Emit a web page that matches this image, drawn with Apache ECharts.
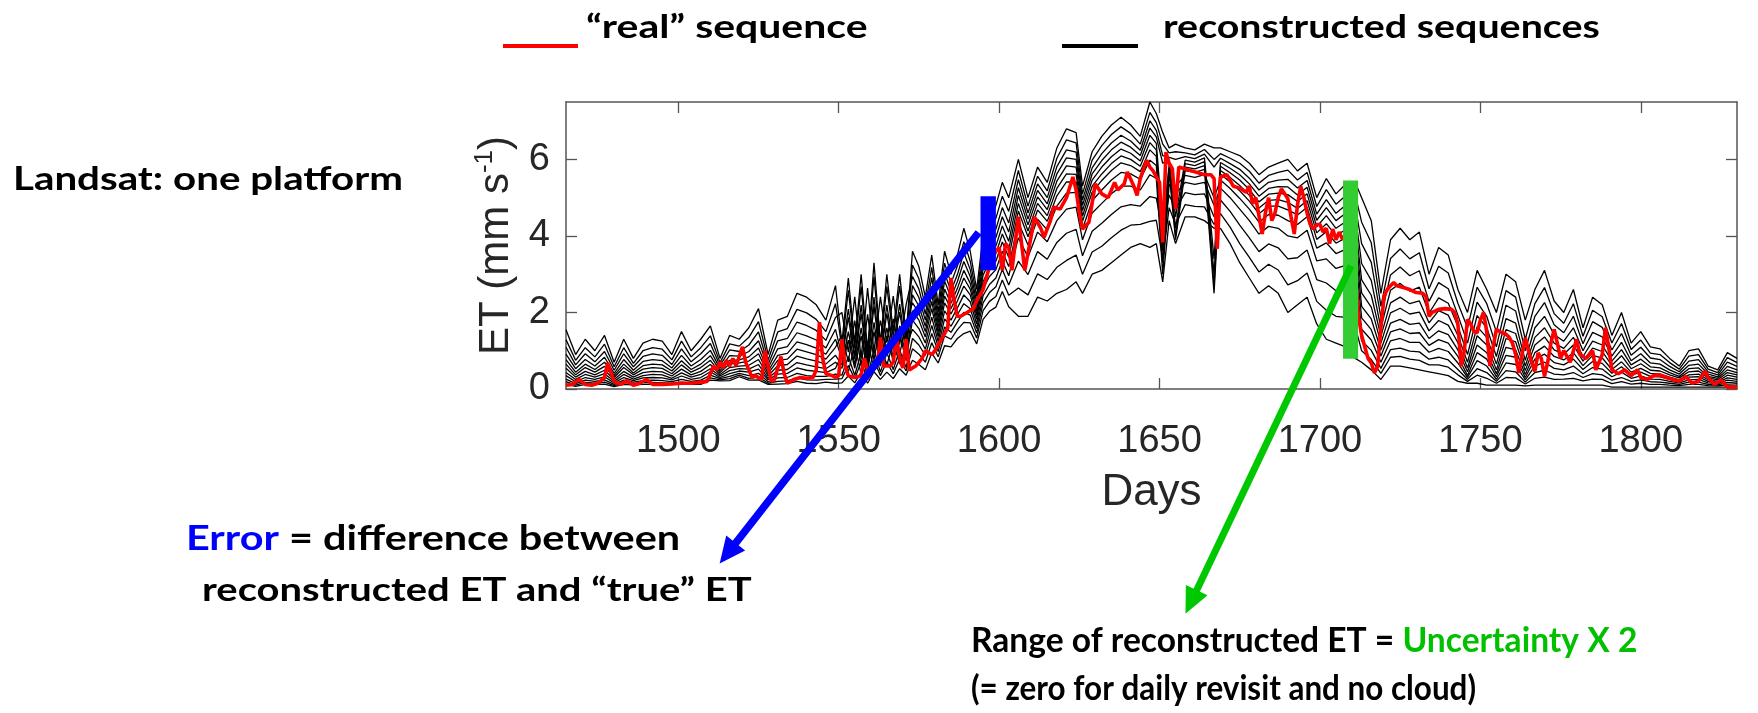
<!DOCTYPE html>
<html><head><meta charset="utf-8">
<script src="https://cdn.jsdelivr.net/npm/echarts@6/dist/echarts.min.js"></script>
<style>html,body{margin:0;padding:0;background:#fff}#c{width:1758px;height:713px}</style>
</head><body><div id="c"></div>
<script>
// ---------- data ----------
const xTickValues = [1500, 1550, 1600, 1650, 1700, 1750, 1800];
const yTickValues = [0, 2, 4, 6];

const days = [1465,1468,1471,1474,1477,1480,1483,1486,1489,1492,1495,1498,1501,1504,1507,1510,1513,1516,1519,1522,1525,1528,1531,1534,1537,1540,1543,1546,1549,
1551,1553,1555,1557,1559,1561,1563,1565,1567,1569,1571,1573,1575,1577,1579,1581,1583,1585,1587,1589,1591,1593,1595,1597,1599,1601,1603,
1606,1609,1612,1615,1618,1621,1624,1626,1629,1632,1635,1638,1641,1644,1647,1649,1651,1653,1655,1658,1661,1664,1667,1669,1672,1675,1678,1681,1684,1687,1690,1693,1696,1699,1702,1705,1708,1711,
1713,1716,1719,1722,1725,1728,1731,1734,1737,1740,1743,1746,1749,1752,1755,1758,1761,1764,1767,1770,1773,1776,1779,1782,1785,1788,1791,1794,1797,1800,1803,1806,1809,1812,1815,1818,1821,1824,1827,1830];

const recon1 = [1.55,0.9,1.3,1.0,1.4,0.7,1.3,0.8,1.2,1.3,1.25,0.9,1.5,1.0,1.3,1.65,0.8,1.4,1.3,1.6,2.1,0.9,1.8,1.9,2.5,2.4,2.2,1.8,2.7,
1.2,2.9,1.2,3.0,1.0,3.3,1.2,3.0,1.5,3.0,1.4,3.6,3.2,2.4,3.5,2.2,3.6,3.0,3.5,4.2,3.6,2.6,4.0,4.5,4.8,5.4,5.0,
6.0,5.0,5.8,5.4,6.3,6.8,6.7,5.3,6.2,6.6,6.9,7.1,6.9,6.6,7.5,7.2,6.7,6.3,6.4,6.3,6.25,6.4,6.3,6.3,6.2,6.1,5.9,5.6,5.8,5.9,6.0,5.7,5.9,5.0,5.5,5.1,5.35,5.4,
5.0,4.4,2.5,3.9,4.2,3.9,4.1,3.0,3.7,3.5,2.6,2.0,3.1,2.6,2.0,3.0,2.8,1.8,2.6,3.1,2.3,2.0,2.6,1.6,2.4,2.2,1.4,2.0,1.2,1.5,1.1,1.05,0.8,0.6,1.0,1.05,0.6,0.5,0.95,0.8];
const recon2 = [1.29,0.75,1.08,0.84,1.17,0.58,1.08,0.67,1.0,1.08,1.04,0.76,1.25,0.84,1.08,1.39,0.69,1.18,1.12,1.35,1.76,0.76,1.49,1.58,2.08,1.99,1.82,1.5,2.23,
1.07,2.58,1.07,2.68,0.89,2.94,1.08,2.68,1.34,2.69,1.27,3.24,2.88,2.16,3.18,2.01,3.29,2.76,3.22,3.85,3.34,2.42,3.72,4.19,4.46,5.04,4.64,
5.71,4.78,5.56,5.18,6.03,6.51,6.43,5.1,5.98,6.36,6.65,6.85,6.68,6.4,7.23,6.96,6.4,6.17,6.2,6.17,6.12,6.26,6.0,6.15,6.03,5.9,5.69,5.38,5.58,5.66,5.72,5.46,5.66,4.77,5.21,4.83,5.05,5.08,
4.36,3.82,2.16,3.41,3.66,3.4,3.56,2.62,3.21,3.03,2.24,1.6,2.66,2.23,1.5,2.57,2.4,1.3,2.23,2.65,1.97,1.72,2.23,1.38,2.06,1.89,1.2,1.71,1.03,1.28,0.94,0.9,0.69,0.52,0.86,0.9,0.52,0.43,0.82,0.69];
const recon3 = [1.09,0.63,0.92,0.71,0.98,0.49,0.92,0.58,0.85,0.92,0.88,0.64,1.05,0.71,0.92,1.19,0.61,1.02,0.98,1.15,1.49,0.64,1.26,1.32,1.75,1.66,1.53,1.27,1.87,
2.0,0.96,2.41,0.8,2.64,0.98,2.41,1.21,2.43,1.16,2.2,2.94,2.61,1.96,2.91,1.85,3.03,2.56,2.99,3.56,3.12,2.27,3.49,3.93,4.18,4.74,4.34,
5.47,4.6,5.36,5.0,5.81,6.25,6.19,4.94,5.78,6.15,6.43,6.63,6.48,6.24,7.01,6.76,6.1,6.05,6.0,6.07,6.02,6.14,5.8,6.03,5.89,5.74,5.51,5.2,5.4,5.46,5.48,5.25,5.45,4.57,4.95,4.59,4.8,4.8,
3.8,3.31,1.87,2.98,3.19,2.96,3.09,2.29,2.78,2.62,1.93,1.2,2.27,1.9,1.1,2.19,2.04,1.0,1.9,2.26,1.68,1.47,1.9,1.18,1.76,1.61,1.02,1.45,0.88,1.09,0.81,0.77,0.59,0.45,0.73,0.77,0.45,0.37,0.7,0.59];
const recon4 = [0.91,0.53,0.77,0.6,0.83,0.41,0.77,0.49,0.72,0.77,0.74,0.55,0.88,0.6,0.77,1.01,0.54,0.87,0.86,0.98,1.26,0.55,1.05,1.11,1.47,1.39,1.28,1.07,1.56,
0.87,2.09,0.87,2.19,0.73,2.4,0.9,2.19,1.11,2.22,1.07,2.7,2.39,1.8,2.69,1.72,2.82,2.4,2.81,3.33,2.94,2.15,3.31,3.72,3.96,4.5,4.1,
5.26,4.44,5.19,4.84,5.62,6.04,6.0,4.8,5.62,5.97,6.25,6.45,6.32,6.1,6.82,6.59,5.9,5.96,4.5,5.98,5.93,6.04,3.4,5.92,5.77,5.6,5.36,5.04,5.24,5.29,5.28,5.07,5.27,4.41,4.74,4.4,4.59,4.57,
3.28,2.84,1.6,2.58,2.76,2.56,2.66,1.98,2.38,2.24,1.64,0.9,1.92,1.6,0.85,1.84,1.72,0.75,1.6,1.9,1.42,1.25,1.6,1.0,1.48,1.36,0.86,1.22,0.74,0.92,0.68,0.65,0.5,0.39,0.62,0.65,0.39,0.32,0.59,0.5];
const recon5 = [0.77,0.44,0.65,0.51,0.7,0.35,0.65,0.42,0.61,0.65,0.63,0.47,0.74,0.51,0.65,0.87,0.48,0.75,0.76,0.84,1.07,0.47,0.88,0.93,1.23,1.16,1.07,0.91,1.3,
0.78,1.87,0.78,1.97,0.66,2.16,0.82,1.97,1.01,2.01,0.98,2.46,2.17,1.64,2.47,1.59,2.61,2.24,2.63,3.1,2.76,2.03,3.13,3.51,3.74,4.26,3.86,
5.06,4.29,5.02,4.69,5.43,5.83,5.8,4.66,5.46,5.8,6.07,6.27,6.16,5.96,6.63,6.42,4.3,5.86,4.2,5.89,5.84,5.94,3.0,5.82,5.65,5.46,5.21,4.89,5.09,5.12,5.08,4.9,5.1,4.24,4.53,4.2,4.37,4.34,
2.85,2.45,1.38,2.25,2.4,2.23,2.3,1.73,2.05,1.93,1.4,0.7,1.63,1.35,0.65,1.55,1.45,0.6,1.35,1.6,1.2,1.06,1.35,0.85,1.25,1.15,0.73,1.03,0.63,0.78,0.58,0.55,0.43,0.33,0.53,0.55,0.33,0.28,0.5,0.43];
const recon6 = [0.65,0.37,0.56,0.44,0.59,0.3,0.56,0.37,0.52,0.56,0.54,0.4,0.63,0.44,0.56,0.75,0.43,0.66,0.68,0.73,0.92,0.4,0.75,0.78,1.04,0.97,0.9,0.78,1.09,
1.4,0.71,1.79,0.6,1.95,0.75,1.79,0.92,1.83,0.91,1.7,2.25,1.99,1.5,2.29,1.48,2.43,2.1,2.47,2.9,2.61,1.93,2.97,3.33,3.54,4.05,3.65,
4.85,4.13,4.85,4.53,5.24,5.62,5.61,4.52,5.3,5.62,5.89,6.09,6.0,5.82,6.44,6.25,3.9,5.77,4.0,5.8,5.75,5.84,2.7,5.71,5.53,5.32,5.06,4.73,4.93,4.95,4.88,4.72,4.92,4.08,4.32,4.01,4.16,4.11,
2.51,2.14,1.2,1.99,2.11,1.96,2.01,1.52,1.79,1.67,1.21,0.55,1.39,1.15,0.5,1.32,1.23,0.48,1.15,1.36,1.02,0.91,1.15,0.73,1.07,0.98,0.62,0.87,0.53,0.66,0.49,0.47,0.37,0.29,0.45,0.47,0.29,0.24,0.43,0.37];
const recon7 = [0.54,0.31,0.46,0.37,0.49,0.25,0.46,0.31,0.43,0.46,0.45,0.34,0.52,0.37,0.46,0.64,0.38,0.56,0.6,0.62,0.77,0.34,0.61,0.64,0.86,0.79,0.73,0.65,0.88,
0.63,1.5,0.63,1.6,0.53,1.74,0.68,1.6,0.82,1.65,0.83,2.04,1.8,1.36,2.1,1.37,2.25,1.96,2.3,2.69,2.46,1.82,2.8,3.15,3.34,3.84,3.44,
4.65,3.98,4.68,4.38,5.05,5.41,5.41,4.38,5.14,5.45,5.71,5.91,5.84,5.68,6.25,6.08,3.6,5.67,3.9,5.71,5.66,5.74,2.5,5.61,5.41,5.18,4.91,4.58,4.78,4.78,4.68,4.55,4.75,3.91,4.11,3.81,3.95,3.88,
2.16,1.83,1.02,1.72,1.82,1.69,1.72,1.32,1.52,1.42,1.02,0.45,1.15,0.95,0.4,1.09,1.02,0.38,0.95,1.12,0.85,0.76,0.95,0.61,0.88,0.81,0.51,0.71,0.44,0.54,0.41,0.39,0.31,0.24,0.37,0.39,0.24,0.2,0.36,0.31];
const recon8 = [0.43,0.25,0.38,0.31,0.4,0.2,0.38,0.26,0.35,0.38,0.37,0.28,0.42,0.31,0.38,0.53,0.34,0.48,0.53,0.52,0.64,0.28,0.49,0.51,0.69,0.63,0.58,0.53,0.7,
0.54,1.28,0.54,1.38,0.46,1.5,0.6,1.38,0.72,1.44,0.74,1.8,1.58,1.2,1.88,1.24,2.04,1.8,2.12,2.46,2.28,1.7,2.62,2.94,3.12,3.6,3.2,
4.36,3.76,4.44,4.16,4.78,5.12,5.14,4.18,4.92,5.2,5.46,5.66,5.62,5.48,5.98,5.84,3.3,5.54,5.3,5.58,5.53,5.6,5.0,5.46,5.24,4.98,4.7,4.36,4.56,4.54,4.4,4.3,4.5,3.68,3.82,3.54,3.65,3.56,
1.86,1.55,0.86,1.49,1.57,1.45,1.47,1.14,1.29,1.2,0.85,0.35,0.95,0.78,0.32,0.88,0.83,0.3,0.78,0.91,0.69,0.63,0.78,0.51,0.72,0.67,0.41,0.58,0.36,0.44,0.33,0.32,0.25,0.2,0.31,0.32,0.2,0.17,0.29,0.25];
const recon9 = [0.35,0.19,0.3,0.25,0.32,0.16,0.3,0.22,0.29,0.3,0.29,0.24,0.34,0.25,0.3,0.45,0.3,0.4,0.47,0.44,0.52,0.24,0.39,0.41,0.55,0.49,0.46,0.43,0.54,
0.9,0.45,1.16,0.39,1.26,0.52,1.16,0.62,1.23,0.65,1.1,1.56,1.36,1.04,1.66,1.11,1.83,1.64,1.94,2.23,2.1,1.58,2.44,2.73,2.9,3.36,2.96,
3.95,3.45,4.1,3.85,4.4,4.7,4.75,3.9,4.6,4.85,5.1,5.3,5.3,5.2,5.6,5.5,3.0,5.35,5.1,5.4,5.35,5.4,4.8,5.25,5.0,4.7,4.4,4.05,4.25,4.2,4.0,3.95,4.15,3.35,3.4,3.15,3.23,3.1,
1.56,1.28,0.7,1.26,1.32,1.22,1.22,0.96,1.06,0.98,0.68,0.3,0.74,0.6,0.25,0.68,0.64,0.24,0.6,0.7,0.54,0.5,0.6,0.4,0.56,0.52,0.32,0.44,0.28,0.34,0.26,0.25,0.2,0.16,0.24,0.25,0.16,0.14,0.23,0.2];
const recon10 = [0.26,0.14,0.23,0.2,0.24,0.12,0.23,0.18,0.22,0.23,0.22,0.19,0.25,0.2,0.23,0.36,0.27,0.33,0.41,0.35,0.41,0.19,0.29,0.3,0.41,0.35,0.33,0.33,0.39,
0.36,0.85,0.36,0.95,0.32,1.02,0.44,0.95,0.51,1.02,0.56,1.32,1.15,0.88,1.45,0.98,1.62,1.48,1.75,2.0,1.93,1.46,2.25,2.52,2.67,3.12,2.72,
3.34,2.99,3.59,3.39,3.83,4.07,4.17,3.48,4.12,4.33,4.56,4.76,4.82,4.78,5.03,4.99,4.1,5.07,4.7,5.13,5.08,5.1,4.5,4.94,4.64,4.28,3.95,3.59,3.79,3.69,3.4,3.43,3.63,2.86,2.77,2.57,2.59,2.41,
1.26,1.01,0.54,1.03,1.07,0.99,0.97,0.78,0.83,0.76,0.51,0.25,0.53,0.43,0.2,0.48,0.45,0.18,0.43,0.49,0.39,0.37,0.43,0.3,0.4,0.37,0.23,0.3,0.2,0.24,0.19,0.18,0.15,0.12,0.18,0.18,0.12,0.11,0.17,0.15];
const recon11 = [0.19,0.1,0.17,0.15,0.18,0.09,0.17,0.14,0.17,0.17,0.16,0.15,0.18,0.15,0.17,0.29,0.24,0.27,0.36,0.28,0.31,0.15,0.2,0.21,0.29,0.24,0.23,0.25,0.26,
0.27,0.61,0.27,0.71,0.24,0.75,0.35,0.71,0.4,0.79,0.47,1.05,0.91,0.7,1.21,0.84,1.39,1.3,1.55,1.74,1.73,1.33,2.05,2.29,2.42,2.85,2.45,
2.64,2.46,3.01,2.86,3.18,3.36,3.5,3.0,3.58,3.73,3.95,4.15,4.28,4.3,4.38,4.41,3.4,4.74,4.3,4.82,4.77,4.76,4.3,4.58,4.23,3.8,3.44,3.06,3.26,3.11,2.72,2.83,3.03,2.29,2.06,1.9,1.87,1.63,
1.0,0.77,0.41,0.83,0.85,0.78,0.75,0.63,0.63,0.57,0.37,0.2,0.36,0.28,0.15,0.3,0.29,0.13,0.28,0.31,0.25,0.26,0.28,0.21,0.26,0.25,0.14,0.19,0.13,0.15,0.12,0.12,0.1,0.09,0.12,0.12,0.09,0.08,0.11,0.1];
const recon12 = [0.13,0.07,0.12,0.12,0.13,0.06,0.12,0.11,0.12,0.12,0.12,0.12,0.13,0.12,0.12,0.23,0.21,0.22,0.32,0.23,0.24,0.12,0.13,0.14,0.2,0.15,0.14,0.18,0.15,
0.16,0.34,0.16,0.44,0.15,0.45,0.25,0.44,0.27,0.53,0.36,0.75,0.64,0.5,0.94,0.68,1.13,1.1,1.32,1.45,1.51,1.18,1.82,2.03,2.14,2.55,2.15,
1.9,1.9,2.4,2.3,2.5,2.6,2.8,2.5,3.0,3.1,3.3,3.5,3.7,3.8,3.7,3.8,2.8,4.4,3.8,4.5,4.5,4.4,4.2,4.2,3.8,3.3,2.9,2.5,2.7,2.5,2.0,2.2,2.4,1.7,1.3,1.2,1.1,0.8,
0.7,0.5,0.25,0.6,0.6,0.55,0.5,0.45,0.4,0.35,0.2,0.15,0.15,0.1,0.1,0.1,0.1,0.08,0.1,0.1,0.1,0.1,0.1,0.1,0.1,0.1,0.05,0.05,0.05,0.05,0.05,0.05,0.05,0.05,0.05,0.05,0.05,0.05,0.05,0.05];

const realSeq = [[1465,0.1],[1467,0.12],[1469,0.25],[1471,0.12],[1473,0.1],[1475,0.15],[1477,0.3],[1478,0.68],[1480,0.2],[1482,0.12],[1484,0.22],[1486,0.1],[1488,0.15],[1490,0.25],[1492,0.12],[1495,0.12],[1498,0.13],[1501,0.15],[1504,0.15],[1507,0.18],[1509,0.2],
[1511,0.6],[1512,0.5],[1513,0.7],[1514,0.55],[1515,0.75],[1516,0.6],[1517,0.8],[1518,0.6],[1520,1.1],[1521,0.7],[1522,0.5],[1523,0.3],[1524,0.35],[1526,0.25],[1527,1.0],[1528,0.6],[1529,0.2],[1530,0.25],[1532,0.85],[1533,0.4],[1534,0.15],[1536,0.25],[1538,0.3],[1540,0.28],[1542,0.3],[1543,0.5],[1544,1.75],[1545,0.8],[1546,0.4],[1548,0.35],[1549,0.3],[1550,0.35],
[1551,1.3],[1552,0.6],[1553,0.35],[1555,0.3],[1557,0.35],[1558,0.8],[1559,0.5],[1560,0.55],[1562,0.6],[1563,1.35],[1564,0.6],[1566,0.6],[1567,0.7],[1568,1.4],[1569,0.8],[1570,0.55],[1571,1.3],[1572,0.5],[1574,0.6],[1576,0.8],[1577,1.0],[1579,0.9],[1580,1.0],[1582,1.3],[1584,1.6],[1585,2.9],[1586,2.3],[1587,1.9],[1588,1.9],[1590,2.0],[1592,2.1],[1593,2.3],[1595,2.6],[1597,3.2],[1598,3.5],[1600,3.7],[1601,3.1],[1602,3.8],[1603,3.7],[1604,3.1],
[1606,4.5],[1607,3.8],[1608,3.1],[1610,4.0],[1611,4.5],[1613,4.2],[1614,3.96],[1616,4.4],[1617,4.75],[1619,4.7],[1621,5.0],[1623,5.54],[1624,5.2],[1625,4.6],[1626,4.18],[1628,4.36],[1630,5.36],[1632,5.1],[1634,5.0],[1636,5.4],[1637,5.2],[1639,5.36],[1640,5.67],[1642,5.3],[1643,5.06],[1644,5.5],[1646,5.98],[1647,5.8],[1648,5.7],[1650,5.4],[1651,3.83],[1652,6.19],[1653,5.9],[1654,5.76],[1655,4.7],[1656,5.8],[1658,5.75],[1660,5.7],[1662,5.65],[1664,5.6],[1666,5.6],[1667,5.5],[1668,3.66],[1669,5.54],[1671,5.6],[1673,5.3],[1675,5.25],[1677,5.14],[1678,5.3],[1679,4.84],[1680,5.0],[1682,4.05],[1683,4.6],[1684,5.0],[1685,4.4],[1686,4.6],[1687,5.0],[1688,5.23],[1689,5.1],[1690,4.97],[1691,4.5],[1692,4.05],[1693,4.8],[1694,5.3],[1695,5.0],[1696,4.6],[1697,4.3],[1698,4.18],[1699,4.3],[1700,4.3],[1701,4.1],[1702,4.2],[1703,3.8],[1704,4.18],[1705,3.9],[1706,4.1],[1707,3.92],[1708,4.0],[1709,4.1],[1710,3.6],[1711,3.0],
[1712,1.9],[1713,1.4],[1714,1.1],[1715,0.8],[1716,0.68],[1717,0.42],[1718,0.6],[1719,1.6],[1720,2.43],[1721,2.6],[1722,2.7],[1723,2.78],[1724,2.7],[1726,2.65],[1728,2.6],[1730,2.52],[1732,2.5],[1733,2.43],[1734,1.9],[1735,2.0],[1737,2.08],[1739,2.1],[1741,2.08],[1742,2.0],[1743,1.7],[1744,0.6],[1745,1.0],[1746,1.82],[1747,1.7],[1748,1.5],[1749,1.47],[1750,1.8],[1751,2.0],[1752,1.5],[1753,0.6],[1754,1.1],[1755,1.56],[1756,1.5],[1758,1.43],[1759,1.35],[1760,1.2],[1761,0.9],[1762,0.42],[1763,0.9],[1764,1.34],[1765,1.0],[1766,0.7],[1767,0.46],[1768,0.94],[1769,0.8],[1770,0.33],[1771,0.7],[1772,1.2],[1773,1.56],[1774,1.2],[1775,0.8],
[1776,1.0],[1778,0.7],[1780,1.3],[1781,0.9],[1783,0.8],[1785,1.0],[1786,0.5],[1788,0.9],[1789,1.6],[1790,1.1],[1791,0.5],[1793,0.4],[1795,0.5],[1797,0.35],[1799,0.5],[1800,0.3],[1802,0.25],[1804,0.35],[1806,0.37],[1808,0.3],[1810,0.25],[1812,0.2],[1814,0.33],[1816,0.15],[1818,0.2],[1820,0.46],[1821,0.3],[1823,0.12],[1825,0.24],[1827,0.05],[1830,0.05]];

// annotation marks, in data coordinates: [x0, y0, x1, y1]
const errorBar = [1594.2, 3.1, 1599.0, 5.04];
const uncertaintyBar = [1707.2, 0.79, 1711.9, 5.45];
// arrows: [xStart, yStart, xTip, yTip]
const errorArrow = [1593.6, 4.09, 1512.9, -4.56];
const uncertaintyArrow = [1709.7, 3.22, 1658.1, -5.87];

// ---------- chart ----------
const reconAll = [recon1, recon2, recon3, recon4, recon5, recon6, recon7, recon8, recon9, recon10, recon11, recon12];
const frameColor = '#555555';
const labelColor = '#262626';
const tick = (vals) => ({show: true, inside: true, length: 11, customValues: vals, lineStyle: {color: frameColor, width: 1.3}});
const axLine = {show: true, onZero: false, lineStyle: {color: frameColor, width: 1.5}};

const series = reconAll.map((arr, k) => ({
  type: 'line', name: 'recon' + (k + 1), data: days.map((d, i) => [d, arr[i]]),
  showSymbol: false, symbol: 'none', lineStyle: {color: '#000', width: 1.3}, z: 2, animation: false, silent: true
}));
series.push({
  type: 'line', name: 'real', data: realSeq, showSymbol: false, symbol: 'none',
  lineStyle: {color: '#ff0000', width: 3.6}, z: 3, animation: false, silent: true
});

function barItem(color) {
  return function (params, api) {
    const a = api.coord([api.value(0), api.value(3)]);
    const b = api.coord([api.value(2), api.value(1)]);
    return {type: 'rect', shape: {x: a[0], y: a[1], width: b[0] - a[0], height: b[1] - a[1]}, style: {fill: color}};
  };
}
function arrowItem(color, w) {
  return function (params, api) {
    const p0 = api.coord([api.value(0), api.value(1)]);
    const p1 = api.coord([api.value(2), api.value(3)]);
    const dx = p1[0] - p0[0], dy = p1[1] - p0[1];
    const len = Math.hypot(dx, dy), ux = dx / len, uy = dy / len;
    const hl = 26, hw = 12;
    const bx = p1[0] - ux * hl, by = p1[1] - uy * hl;
    const nx = -uy, ny = ux;
    return {type: 'group', children: [
      {type: 'line', shape: {x1: p0[0], y1: p0[1], x2: bx + ux * 2, y2: by + uy * 2}, style: {stroke: color, lineWidth: w}},
      {type: 'polygon', shape: {points: [[p1[0], p1[1]], [bx + nx * hw, by + ny * hw], [bx - nx * hw, by - ny * hw]]}, style: {fill: color}}
    ]};
  };
}
series.push({type: 'custom', data: [errorBar], renderItem: barItem('#0000ff'), z: 10, clip: false, animation: false, silent: true});
series.push({type: 'custom', data: [uncertaintyBar], renderItem: barItem('#33cc33'), z: 10, clip: false, animation: false, silent: true});
series.push({type: 'custom', data: [errorArrow], renderItem: arrowItem('#0000ff', 7.5), z: 11, clip: false, animation: false, silent: true});
series.push({type: 'custom', data: [uncertaintyArrow], renderItem: arrowItem('#00c800', 7), z: 11, clip: false, animation: false, silent: true});

const txtFont = 'Lato';
function txt(x, y, text, size, sx, rich) {
  const style = {text: text, x: 0, y: 0, fontFamily: txtFont, fontWeight: 'bold', fontSize: size, fill: '#000', verticalAlign: 'middle', align: 'left'};
  if (rich) {
    style.rich = {};
    Object.keys(rich).forEach(k => { style.rich[k] = {fill: rich[k], color: rich[k], fontFamily: txtFont, fontWeight: 'bold', fontSize: size}; });
  }
  return {type: 'text', x: x, y: y, scaleX: sx, scaleY: 1, z: 20, style: style};
}

const option = {
  backgroundColor: '#ffffff',
  animation: false,
  grid: {left: 566, top: 102, width: 1171, height: 287, containLabel: false},
  xAxis: [
    {type: 'value', min: 1465, max: 1830, position: 'bottom', axisLine: axLine, axisTick: tick(xTickValues),
     axisLabel: {customValues: xTickValues, formatter: v => String(v), fontFamily: 'Liberation Sans', fontSize: 38, color: labelColor, margin: 34},
     splitLine: {show: false}, name: 'Days', nameLocation: 'middle', nameGap: 82,
     nameTextStyle: {fontFamily: 'Liberation Sans', fontSize: 44, color: labelColor}},
    {type: 'value', min: 1465, max: 1830, position: 'top', axisLine: axLine, axisTick: tick(xTickValues),
     axisLabel: {show: false}, splitLine: {show: false}}
  ],
  yAxis: [
    {type: 'value', min: 0, max: 7.5, position: 'left', axisLine: axLine, axisTick: tick(yTickValues),
     axisLabel: {customValues: yTickValues, formatter: v => String(v), fontFamily: 'Liberation Sans', fontSize: 38, color: labelColor, margin: 16},
     splitLine: {show: false}, name: '{a|ET (mm s}{b|-1}{a|)}', nameLocation: 'middle', nameGap: 46,
     nameTextStyle: {fontFamily: 'Liberation Sans', color: labelColor,
       rich: {a: {fontFamily: 'Liberation Sans', fontSize: 42, color: labelColor, lineHeight: 48},
              b: {fontFamily: 'Liberation Sans', fontSize: 26, color: labelColor, verticalAlign: 'top', lineHeight: 26}}}},
    {type: 'value', min: 0, max: 7.5, position: 'right', axisLine: axLine, axisTick: tick(yTickValues),
     axisLabel: {show: false}, splitLine: {show: false}}
  ],
  series: series,
  graphic: [
    {type: 'line', z: 20, shape: {x1: 503, y1: 46, x2: 578, y2: 46}, style: {stroke: '#ff0000', lineWidth: 4}},
    txt(586, 28, '“real” sequence', 32, 1.28),
    {type: 'line', z: 20, shape: {x1: 1062, y1: 46, x2: 1138, y2: 46}, style: {stroke: '#000000', lineWidth: 4}},
    txt(1163, 28, 'reconstructed sequences', 32, 1.23),
    txt(13, 180, 'Landsat: one platform', 32.5, 1.24),
    txt(186, 539, '{b|Error}{k| = difference between}', 34.5, 1.2, {b: '#0000ff', k: '#000000'}),
    txt(202, 590, 'reconstructed ET and “true” ET', 33, 1.21),
    txt(971, 641, '{k|Range of reconstructed ET = }{g|Uncertainty X 2}', 34.5, 0.973, {g: '#00c000', k: '#000000'}),
    txt(971, 689, '(= zero for daily revisit and no cloud)', 34.5, 0.91)
  ]
};

const chart = echarts.init(document.getElementById('c'), null, {renderer: 'canvas'});
chart.setOption(option);
</script>
</body></html>
